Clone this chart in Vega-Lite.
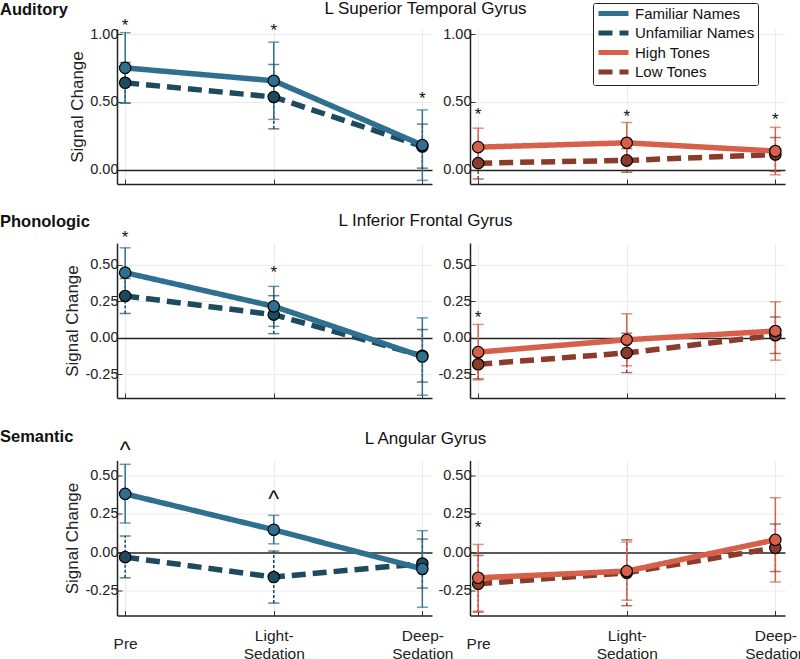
{
  "$schema": "https://vega.github.io/schema/vega-lite/v6.json",
  "padding": 0,
  "background": "white",
  "config": {
    "view": {"stroke": null},
    "font": "Liberation Sans",
    "axis": {"domainColor": "#222", "domainWidth": 1.5, "gridColor": "#ebebeb", "labelFontSize": 14.5, "labelColor": "#222", "labelOverlap": false, "titleFontSize": 17, "titleFontWeight": "normal", "titleColor": "#222", "ticks": true, "tickSize": -5, "tickColor": "#333", "labelPadding": 4, "titlePadding": 3},
    "title": {"color": "#111"}
  },
  "datasets": {
    "d": [
      {"r": "A", "g": "N", "s": "Unfamiliar Names", "x": 0, "m": 0.64, "lo": 0.49, "hi": 0.79},
      {"r": "A", "g": "N", "s": "Unfamiliar Names", "x": 1, "m": 0.535, "lo": 0.30, "hi": 0.775},
      {"r": "A", "g": "N", "s": "Unfamiliar Names", "x": 2, "m": 0.17, "lo": 0.01, "hi": 0.335},
      {"r": "A", "g": "N", "s": "Familiar Names", "x": 0, "m": 0.75, "lo": 0.49, "hi": 1.01},
      {"r": "A", "g": "N", "s": "Familiar Names", "x": 1, "m": 0.655, "lo": 0.37, "hi": 0.94},
      {"r": "A", "g": "N", "s": "Familiar Names", "x": 2, "m": 0.18, "lo": -0.08, "hi": 0.44},
      {"r": "A", "g": "T", "s": "Low Tones", "x": 0, "m": 0.047, "lo": -0.07, "hi": 0.16},
      {"r": "A", "g": "T", "s": "Low Tones", "x": 1, "m": 0.067, "lo": -0.02, "hi": 0.154},
      {"r": "A", "g": "T", "s": "Low Tones", "x": 2, "m": 0.111, "lo": -0.014, "hi": 0.236},
      {"r": "A", "g": "T", "s": "High Tones", "x": 0, "m": 0.165, "lo": 0.03, "hi": 0.305},
      {"r": "A", "g": "T", "s": "High Tones", "x": 1, "m": 0.197, "lo": 0.047, "hi": 0.347},
      {"r": "A", "g": "T", "s": "High Tones", "x": 2, "m": 0.136, "lo": -0.039, "hi": 0.311},
      {"r": "P", "g": "N", "s": "Unfamiliar Names", "x": 0, "m": 0.285, "lo": 0.165, "hi": 0.405},
      {"r": "P", "g": "N", "s": "Unfamiliar Names", "x": 1, "m": 0.157, "lo": 0.027, "hi": 0.287},
      {"r": "P", "g": "N", "s": "Unfamiliar Names", "x": 2, "m": -0.125, "lo": -0.305, "hi": 0.055},
      {"r": "P", "g": "N", "s": "Familiar Names", "x": 0, "m": 0.445, "lo": 0.275, "hi": 0.615},
      {"r": "P", "g": "N", "s": "Familiar Names", "x": 1, "m": 0.214, "lo": 0.077, "hi": 0.351},
      {"r": "P", "g": "N", "s": "Familiar Names", "x": 2, "m": -0.13, "lo": -0.395, "hi": 0.135},
      {"r": "P", "g": "T", "s": "Low Tones", "x": 0, "m": -0.183, "lo": -0.283, "hi": -0.083},
      {"r": "P", "g": "T", "s": "Low Tones", "x": 1, "m": -0.105, "lo": -0.24, "hi": 0.03},
      {"r": "P", "g": "T", "s": "Low Tones", "x": 2, "m": 0.016, "lo": -0.109, "hi": 0.141},
      {"r": "P", "g": "T", "s": "High Tones", "x": 0, "m": -0.10, "lo": -0.29, "hi": 0.09},
      {"r": "P", "g": "T", "s": "High Tones", "x": 1, "m": -0.015, "lo": -0.193, "hi": 0.163},
      {"r": "P", "g": "T", "s": "High Tones", "x": 2, "m": 0.045, "lo": -0.155, "hi": 0.245},
      {"r": "S", "g": "N", "s": "Unfamiliar Names", "x": 0, "m": -0.033, "lo": -0.168, "hi": 0.105},
      {"r": "S", "g": "N", "s": "Unfamiliar Names", "x": 1, "m": -0.163, "lo": -0.333, "hi": 0.007},
      {"r": "S", "g": "N", "s": "Unfamiliar Names", "x": 2, "m": -0.075, "lo": -0.235, "hi": 0.085},
      {"r": "S", "g": "N", "s": "Familiar Names", "x": 0, "m": 0.38, "lo": 0.19, "hi": 0.573},
      {"r": "S", "g": "N", "s": "Familiar Names", "x": 1, "m": 0.146, "lo": 0.054, "hi": 0.24},
      {"r": "S", "g": "N", "s": "Familiar Names", "x": 2, "m": -0.11, "lo": -0.36, "hi": 0.14},
      {"r": "S", "g": "T", "s": "Low Tones", "x": 0, "m": -0.207, "lo": -0.392, "hi": -0.022},
      {"r": "S", "g": "T", "s": "Low Tones", "x": 1, "m": -0.135, "lo": -0.35, "hi": 0.08},
      {"r": "S", "g": "T", "s": "Low Tones", "x": 2, "m": 0.028, "lo": -0.127, "hi": 0.183},
      {"r": "S", "g": "T", "s": "High Tones", "x": 0, "m": -0.168, "lo": -0.386, "hi": 0.05},
      {"r": "S", "g": "T", "s": "High Tones", "x": 1, "m": -0.124, "lo": -0.314, "hi": 0.066},
      {"r": "S", "g": "T", "s": "High Tones", "x": 2, "m": 0.08, "lo": -0.195, "hi": 0.355}
    ],
    "sig": [
      {"r": "A", "g": "N", "x": 0, "y": 1.09, "t": "*"},
      {"r": "A", "g": "N", "x": 1, "y": 1.05, "t": "*"},
      {"r": "A", "g": "N", "x": 2, "y": 0.55, "t": "*"},
      {"r": "A", "g": "T", "x": 0, "y": 0.43, "t": "*"},
      {"r": "A", "g": "T", "x": 1, "y": 0.42, "t": "*"},
      {"r": "A", "g": "T", "x": 2, "y": 0.395, "t": "*"},
      {"r": "P", "g": "N", "x": 0, "y": 0.71, "t": "*"},
      {"r": "P", "g": "N", "x": 1, "y": 0.47, "t": "*"},
      {"r": "P", "g": "T", "x": 0, "y": 0.164, "t": "*"},
      {"r": "S", "g": "N", "x": 0, "y": 0.686, "t": "^"},
      {"r": "S", "g": "N", "x": 1, "y": 0.366, "t": "^"},
      {"r": "S", "g": "T", "x": 0, "y": 0.185, "t": "*"}
    ]
  },
  "vconcat": [
    {"hconcat": [
      {"width": 315, "height": 155, "data": {"name": "d"},
       "title": {"text": "Auditory", "anchor": "start", "frame": "group", "dx": -117, "fontSize": 16.5, "fontWeight": "bold", "offset": -2},
       "transform": [{"filter": "datum.r=='A' && datum.g=='N'"}],
       "layer": [
         {"mark": {"type": "rule", "strokeWidth": 1.5},
          "encoding": {"x": {"field": "x", "type": "quantitative", "scale": {"domain": [-0.055, 2.065], "nice": false, "zero": false}, "axis": {"values": [0, 1, 2], "title": null, "labels": false, "grid": true}},
            "y": {"field": "lo", "type": "quantitative", "scale": {"domain": [-0.107, 1.037], "nice": false, "zero": false}, "axis": {"values": [0, 0.25, 0.5, 0.75, 1], "title": "Signal Change", "labelExpr": "replace(format(datum.value,'.2f'),'\u2212','-')", "gridColor": {"condition": {"test": "datum.value===0", "value": "#222"}, "value": "#ebebeb"}, "gridWidth": {"condition": {"test": "datum.value===0", "value": 1.4}, "value": 1}}},
            "y2": {"field": "hi"},
            "stroke": {"field": "s", "type": "nominal", "scale": {"domain": ["Unfamiliar Names", "Familiar Names", "Low Tones", "High Tones"], "range": ["#1e4a5e", "#2f6f8f", "#8a3b2b", "#d6604a"]}, "legend": null},
            "strokeDash": {"condition": {"test": "datum.s=='Unfamiliar Names' || datum.s=='Low Tones'", "value": [3, 2]}, "value": [1, 0]}}},
         {"mark": {"type": "tick", "orient": "horizontal", "size": 11, "thickness": 1.5},
          "encoding": {"x": {"field": "x", "type": "quantitative"}, "y": {"field": "lo", "type": "quantitative"},
            "fill": {"field": "s", "type": "nominal", "scale": {"domain": ["Unfamiliar Names", "Familiar Names", "Low Tones", "High Tones"], "range": ["#1e4a5e", "#2f6f8f", "#8a3b2b", "#d6604a"]}, "legend": null}}},
         {"mark": {"type": "tick", "orient": "horizontal", "size": 11, "thickness": 1.5},
          "encoding": {"x": {"field": "x", "type": "quantitative"}, "y": {"field": "hi", "type": "quantitative"},
            "fill": {"field": "s", "type": "nominal", "legend": null}}},
         {"mark": {"type": "line", "strokeWidth": 5.5},
          "encoding": {"x": {"field": "x", "type": "quantitative"}, "y": {"field": "m", "type": "quantitative"},
            "color": {"field": "s", "type": "nominal", "scale": {"domain": ["Familiar Names", "Unfamiliar Names", "High Tones", "Low Tones"], "range": ["#2f6f8f", "#1e4a5e", "#d6604a", "#8a3b2b"]}, "legend": {"title": null, "orient": "none", "legendX": 476, "legendY": -26, "symbolType": "M-3,0H3", "symbolSize": 100, "symbolStrokeWidth": 5, "symbolOffset": 10, "labelOffset": 14, "labelFontSize": 15, "labelColor": "#111", "strokeColor": "#222", "fillColor": "white", "padding": 3, "cornerRadius": 2, "rowPadding": -1.5, "labelLimit": 200}},
            "strokeDash": {"field": "s", "type": "nominal", "scale": {"domain": ["Familiar Names", "Unfamiliar Names", "High Tones", "Low Tones"], "range": [[1, 0], [14, 7], [1, 0], [14, 7]]}, "legend": {"title": null, "orient": "none", "legendX": 476, "legendY": -26, "symbolType": "M-3,0H3", "symbolSize": 100, "symbolStrokeWidth": 5, "symbolOffset": 10, "labelOffset": 14, "labelFontSize": 15, "labelColor": "#111", "strokeColor": "#222", "fillColor": "white", "padding": 3, "cornerRadius": 2, "rowPadding": -1.5, "labelLimit": 200}}}},
         {"mark": {"type": "point", "shape": "circle", "filled": true, "size": 130, "stroke": "black", "strokeWidth": 1.2, "opacity": 1},
          "encoding": {"x": {"field": "x", "type": "quantitative"}, "y": {"field": "m", "type": "quantitative"},
            "fill": {"field": "s", "type": "nominal", "legend": null}}},
         {"data": {"name": "sig"}, "transform": [{"filter": "datum.r=='A' && datum.g=='N'"}],
          "mark": {"type": "text", "fontSize": 17, "baseline": "middle", "dy": 4, "color": "#111"},
          "encoding": {"x": {"field": "x", "type": "quantitative"}, "y": {"field": "y", "type": "quantitative"}, "text": {"field": "t"}}}
       ]},
      {"width": 315, "height": 155, "data": {"name": "d"},
       "title": {"text": "L Superior Temporal Gyrus", "anchor": "middle", "frame": "group", "dx": -202, "fontSize": 17, "fontWeight": "normal", "offset": 8},
       "transform": [{"filter": "datum.r=='A' && datum.g=='T'"}],
       "layer": [
         {"mark": {"type": "rule", "strokeWidth": 1.5},
          "encoding": {"x": {"field": "x", "type": "quantitative", "scale": {"domain": [-0.055, 2.065], "nice": false, "zero": false}, "axis": {"values": [0, 1, 2], "title": null, "labels": false, "grid": true}},
            "y": {"field": "lo", "type": "quantitative", "scale": {"domain": [-0.107, 1.037], "nice": false, "zero": false}, "axis": {"values": [0, 0.25, 0.5, 0.75, 1], "title": null, "labelExpr": "replace(format(datum.value,'.2f'),'\u2212','-')", "gridColor": {"condition": {"test": "datum.value===0", "value": "#222"}, "value": "#ebebeb"}, "gridWidth": {"condition": {"test": "datum.value===0", "value": 1.4}, "value": 1}}},
            "y2": {"field": "hi"},
            "stroke": {"field": "s", "type": "nominal", "legend": null},
            "strokeDash": {"condition": {"test": "datum.s=='Unfamiliar Names' || datum.s=='Low Tones'", "value": [3, 2]}, "value": [1, 0]}}},
         {"mark": {"type": "tick", "orient": "horizontal", "size": 11, "thickness": 1.5},
          "encoding": {"x": {"field": "x", "type": "quantitative"}, "y": {"field": "lo", "type": "quantitative"}, "fill": {"field": "s", "type": "nominal", "legend": null}}},
         {"mark": {"type": "tick", "orient": "horizontal", "size": 11, "thickness": 1.5},
          "encoding": {"x": {"field": "x", "type": "quantitative"}, "y": {"field": "hi", "type": "quantitative"}, "fill": {"field": "s", "type": "nominal", "legend": null}}},
         {"mark": {"type": "line", "strokeWidth": 5.5},
          "encoding": {"x": {"field": "x", "type": "quantitative"}, "y": {"field": "m", "type": "quantitative"}, "color": {"field": "s", "type": "nominal"}, "strokeDash": {"field": "s", "type": "nominal"}}},
         {"mark": {"type": "point", "shape": "circle", "filled": true, "size": 130, "stroke": "black", "strokeWidth": 1.2, "opacity": 1},
          "encoding": {"x": {"field": "x", "type": "quantitative"}, "y": {"field": "m", "type": "quantitative"}, "fill": {"field": "s", "type": "nominal", "legend": null}}},
         {"data": {"name": "sig"}, "transform": [{"filter": "datum.r=='A' && datum.g=='T'"}],
          "mark": {"type": "text", "fontSize": 17, "baseline": "middle", "dy": 4, "color": "#111"},
          "encoding": {"x": {"field": "x", "type": "quantitative"}, "y": {"field": "y", "type": "quantitative"}, "text": {"field": "t"}}}
       ]}
    ], "spacing": 38, "bounds": "flush"},
    {"vconcat": [
    {"hconcat": [
      {"width": 315, "height": 155, "data": {"name": "d"},
       "title": {"text": "Phonologic", "anchor": "start", "frame": "group", "dx": -117, "fontSize": 16.5, "fontWeight": "bold", "offset": -2},
       "transform": [{"filter": "datum.r=='P' && datum.g=='N'"}],
       "layer": [
         {"mark": {"type": "rule", "strokeWidth": 1.5},
          "encoding": {"x": {"field": "x", "type": "quantitative", "scale": {"domain": [-0.055, 2.065], "nice": false, "zero": false}, "axis": {"values": [0, 1, 2], "title": null, "labels": false, "grid": true}},
            "y": {"field": "lo", "type": "quantitative", "scale": {"domain": [-0.414, 0.648], "nice": false, "zero": false}, "axis": {"values": [-0.25, 0, 0.25, 0.5], "title": "Signal Change", "labelExpr": "replace(format(datum.value,'.2f'),'\u2212','-')", "gridColor": {"condition": {"test": "datum.value===0", "value": "#222"}, "value": "#ebebeb"}, "gridWidth": {"condition": {"test": "datum.value===0", "value": 1.4}, "value": 1}}},
            "y2": {"field": "hi"},
            "stroke": {"field": "s", "type": "nominal", "legend": null},
            "strokeDash": {"condition": {"test": "datum.s=='Unfamiliar Names' || datum.s=='Low Tones'", "value": [3, 2]}, "value": [1, 0]}}},
         {"mark": {"type": "tick", "orient": "horizontal", "size": 11, "thickness": 1.5},
          "encoding": {"x": {"field": "x", "type": "quantitative"}, "y": {"field": "lo", "type": "quantitative"}, "fill": {"field": "s", "type": "nominal", "legend": null}}},
         {"mark": {"type": "tick", "orient": "horizontal", "size": 11, "thickness": 1.5},
          "encoding": {"x": {"field": "x", "type": "quantitative"}, "y": {"field": "hi", "type": "quantitative"}, "fill": {"field": "s", "type": "nominal", "legend": null}}},
         {"mark": {"type": "line", "strokeWidth": 5.5},
          "encoding": {"x": {"field": "x", "type": "quantitative"}, "y": {"field": "m", "type": "quantitative"}, "color": {"field": "s", "type": "nominal"}, "strokeDash": {"field": "s", "type": "nominal"}}},
         {"mark": {"type": "point", "shape": "circle", "filled": true, "size": 130, "stroke": "black", "strokeWidth": 1.2, "opacity": 1},
          "encoding": {"x": {"field": "x", "type": "quantitative"}, "y": {"field": "m", "type": "quantitative"}, "fill": {"field": "s", "type": "nominal", "legend": null}}},
         {"data": {"name": "sig"}, "transform": [{"filter": "datum.r=='P' && datum.g=='N'"}],
          "mark": {"type": "text", "fontSize": 17, "baseline": "middle", "dy": 4, "color": "#111"},
          "encoding": {"x": {"field": "x", "type": "quantitative"}, "y": {"field": "y", "type": "quantitative"}, "text": {"field": "t"}}}
       ]},
      {"width": 315, "height": 155, "data": {"name": "d"},
       "title": {"text": "L Inferior Frontal Gyrus", "anchor": "middle", "frame": "group", "dx": -202, "fontSize": 17, "fontWeight": "normal", "offset": 13},
       "transform": [{"filter": "datum.r=='P' && datum.g=='T'"}],
       "layer": [
         {"mark": {"type": "rule", "strokeWidth": 1.5},
          "encoding": {"x": {"field": "x", "type": "quantitative", "scale": {"domain": [-0.055, 2.065], "nice": false, "zero": false}, "axis": {"values": [0, 1, 2], "title": null, "labels": false, "grid": true}},
            "y": {"field": "lo", "type": "quantitative", "scale": {"domain": [-0.414, 0.648], "nice": false, "zero": false}, "axis": {"values": [-0.25, 0, 0.25, 0.5], "title": null, "labelExpr": "replace(format(datum.value,'.2f'),'\u2212','-')", "gridColor": {"condition": {"test": "datum.value===0", "value": "#222"}, "value": "#ebebeb"}, "gridWidth": {"condition": {"test": "datum.value===0", "value": 1.4}, "value": 1}}},
            "y2": {"field": "hi"},
            "stroke": {"field": "s", "type": "nominal", "legend": null},
            "strokeDash": {"condition": {"test": "datum.s=='Unfamiliar Names' || datum.s=='Low Tones'", "value": [3, 2]}, "value": [1, 0]}}},
         {"mark": {"type": "tick", "orient": "horizontal", "size": 11, "thickness": 1.5},
          "encoding": {"x": {"field": "x", "type": "quantitative"}, "y": {"field": "lo", "type": "quantitative"}, "fill": {"field": "s", "type": "nominal", "legend": null}}},
         {"mark": {"type": "tick", "orient": "horizontal", "size": 11, "thickness": 1.5},
          "encoding": {"x": {"field": "x", "type": "quantitative"}, "y": {"field": "hi", "type": "quantitative"}, "fill": {"field": "s", "type": "nominal", "legend": null}}},
         {"mark": {"type": "line", "strokeWidth": 5.5},
          "encoding": {"x": {"field": "x", "type": "quantitative"}, "y": {"field": "m", "type": "quantitative"}, "color": {"field": "s", "type": "nominal"}, "strokeDash": {"field": "s", "type": "nominal"}}},
         {"mark": {"type": "point", "shape": "circle", "filled": true, "size": 130, "stroke": "black", "strokeWidth": 1.2, "opacity": 1},
          "encoding": {"x": {"field": "x", "type": "quantitative"}, "y": {"field": "m", "type": "quantitative"}, "fill": {"field": "s", "type": "nominal", "legend": null}}},
         {"data": {"name": "sig"}, "transform": [{"filter": "datum.r=='P' && datum.g=='T'"}],
          "mark": {"type": "text", "fontSize": 17, "baseline": "middle", "dy": 4, "color": "#111"},
          "encoding": {"x": {"field": "x", "type": "quantitative"}, "y": {"field": "y", "type": "quantitative"}, "text": {"field": "t"}}}
       ]}
    ], "spacing": 38, "bounds": "flush"},
    {"hconcat": [
      {"width": 315, "height": 155, "data": {"name": "d"},
       "title": {"text": "Semantic", "anchor": "start", "frame": "group", "dx": -117, "fontSize": 16.5, "fontWeight": "bold", "offset": -5.5},
       "transform": [{"filter": "datum.r=='S' && datum.g=='N'"}],
       "layer": [
         {"mark": {"type": "rule", "strokeWidth": 1.5},
          "encoding": {"x": {"field": "x", "type": "quantitative", "scale": {"domain": [-0.055, 2.065], "nice": false, "zero": false}, "axis": {"values": [0, 1, 2], "title": null, "grid": true, "labelFontSize": 15.5, "labelPadding": {"condition": {"test": "datum.value==0", "value": 33}, "value": 25}, "labelBaseline": "middle", "labelLineHeight": 18, "labelExpr": "datum.value==0 ? 'Pre' : datum.value==1 ? ['Light-','Sedation'] : ['Deep-','Sedation']"}},
            "y": {"field": "lo", "type": "quantitative", "scale": {"domain": [-0.414, 0.598], "nice": false, "zero": false}, "axis": {"values": [-0.25, 0, 0.25, 0.5], "title": "Signal Change", "labelExpr": "replace(format(datum.value,'.2f'),'\u2212','-')", "gridColor": {"condition": {"test": "datum.value===0", "value": "#222"}, "value": "#ebebeb"}, "gridWidth": {"condition": {"test": "datum.value===0", "value": 1.4}, "value": 1}}},
            "y2": {"field": "hi"},
            "stroke": {"field": "s", "type": "nominal", "legend": null},
            "strokeDash": {"condition": {"test": "datum.s=='Unfamiliar Names' || datum.s=='Low Tones'", "value": [3, 2]}, "value": [1, 0]}}},
         {"mark": {"type": "tick", "orient": "horizontal", "size": 11, "thickness": 1.5},
          "encoding": {"x": {"field": "x", "type": "quantitative"}, "y": {"field": "lo", "type": "quantitative"}, "fill": {"field": "s", "type": "nominal", "legend": null}}},
         {"mark": {"type": "tick", "orient": "horizontal", "size": 11, "thickness": 1.5},
          "encoding": {"x": {"field": "x", "type": "quantitative"}, "y": {"field": "hi", "type": "quantitative"}, "fill": {"field": "s", "type": "nominal", "legend": null}}},
         {"mark": {"type": "line", "strokeWidth": 5.5},
          "encoding": {"x": {"field": "x", "type": "quantitative"}, "y": {"field": "m", "type": "quantitative"}, "color": {"field": "s", "type": "nominal"}, "strokeDash": {"field": "s", "type": "nominal"}}},
         {"mark": {"type": "point", "shape": "circle", "filled": true, "size": 130, "stroke": "black", "strokeWidth": 1.2, "opacity": 1},
          "encoding": {"x": {"field": "x", "type": "quantitative"}, "y": {"field": "m", "type": "quantitative"}, "fill": {"field": "s", "type": "nominal", "legend": null}}},
         {"data": {"name": "sig"}, "transform": [{"filter": "datum.r=='S' && datum.g=='N'"}],
          "mark": {"type": "text", "baseline": "middle", "dy": 4, "color": "#111"},
          "encoding": {"x": {"field": "x", "type": "quantitative"}, "y": {"field": "y", "type": "quantitative"}, "text": {"field": "t"},
            "size": {"condition": {"test": "datum.t=='^'", "value": 23}, "value": 17}}}
       ]},
      {"width": 315, "height": 155, "data": {"name": "d"},
       "title": {"text": "L Angular Gyrus", "anchor": "middle", "frame": "group", "dx": -202, "fontSize": 17, "fontWeight": "normal", "offset": 12.5},
       "transform": [{"filter": "datum.r=='S' && datum.g=='T'"}],
       "layer": [
         {"mark": {"type": "rule", "strokeWidth": 1.5},
          "encoding": {"x": {"field": "x", "type": "quantitative", "scale": {"domain": [-0.055, 2.065], "nice": false, "zero": false}, "axis": {"values": [0, 1, 2], "title": null, "grid": true, "labelFontSize": 15.5, "labelPadding": {"condition": {"test": "datum.value==0", "value": 33}, "value": 25}, "labelBaseline": "middle", "labelLineHeight": 18, "labelExpr": "datum.value==0 ? 'Pre' : datum.value==1 ? ['Light-','Sedation'] : ['Deep-','Sedation']"}},
            "y": {"field": "lo", "type": "quantitative", "scale": {"domain": [-0.414, 0.598], "nice": false, "zero": false}, "axis": {"values": [-0.25, 0, 0.25, 0.5], "title": null, "labelExpr": "replace(format(datum.value,'.2f'),'\u2212','-')", "gridColor": {"condition": {"test": "datum.value===0", "value": "#222"}, "value": "#ebebeb"}, "gridWidth": {"condition": {"test": "datum.value===0", "value": 1.4}, "value": 1}}},
            "y2": {"field": "hi"},
            "stroke": {"field": "s", "type": "nominal", "legend": null},
            "strokeDash": {"condition": {"test": "datum.s=='Unfamiliar Names' || datum.s=='Low Tones'", "value": [3, 2]}, "value": [1, 0]}}},
         {"mark": {"type": "tick", "orient": "horizontal", "size": 11, "thickness": 1.5},
          "encoding": {"x": {"field": "x", "type": "quantitative"}, "y": {"field": "lo", "type": "quantitative"}, "fill": {"field": "s", "type": "nominal", "legend": null}}},
         {"mark": {"type": "tick", "orient": "horizontal", "size": 11, "thickness": 1.5},
          "encoding": {"x": {"field": "x", "type": "quantitative"}, "y": {"field": "hi", "type": "quantitative"}, "fill": {"field": "s", "type": "nominal", "legend": null}}},
         {"mark": {"type": "line", "strokeWidth": 5.5},
          "encoding": {"x": {"field": "x", "type": "quantitative"}, "y": {"field": "m", "type": "quantitative"}, "color": {"field": "s", "type": "nominal"}, "strokeDash": {"field": "s", "type": "nominal"}}},
         {"mark": {"type": "point", "shape": "circle", "filled": true, "size": 130, "stroke": "black", "strokeWidth": 1.2, "opacity": 1},
          "encoding": {"x": {"field": "x", "type": "quantitative"}, "y": {"field": "m", "type": "quantitative"}, "fill": {"field": "s", "type": "nominal", "legend": null}}},
         {"data": {"name": "sig"}, "transform": [{"filter": "datum.r=='S' && datum.g=='T'"}],
          "mark": {"type": "text", "fontSize": 17, "baseline": "middle", "dy": 4, "color": "#111"},
          "encoding": {"x": {"field": "x", "type": "quantitative"}, "y": {"field": "y", "type": "quantitative"}, "text": {"field": "t"}}}
       ]}
    ], "spacing": 38, "bounds": "flush"}
    ], "spacing": 29.5}
  ],
  "spacing": 27
}
